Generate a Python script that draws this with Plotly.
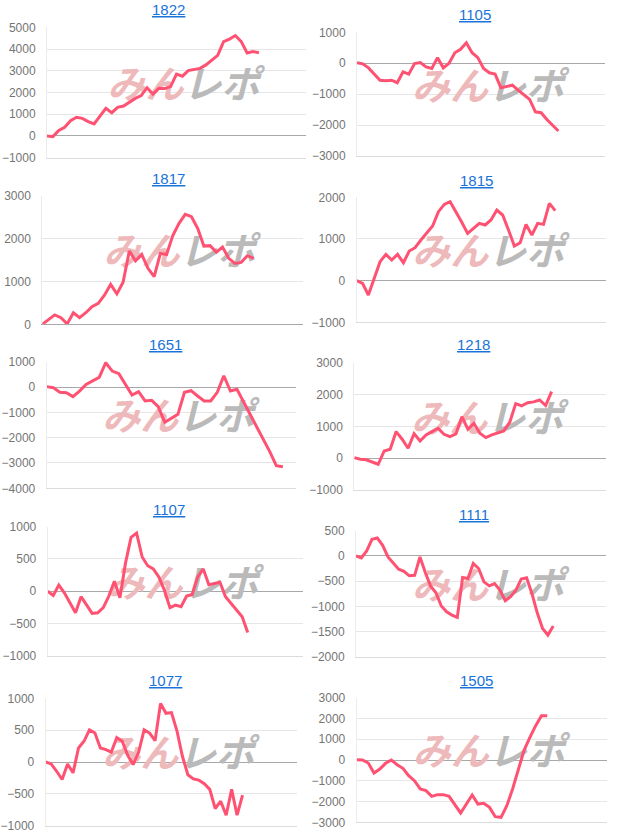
import plotly.graph_objects as go

W, H = 618, 833

titles = ["1822", "1105", "1817", "1815", "1651", "1218", "1107", "1111", "1077", "1505"]

s1822 = [0, -30, 250, 400, 700, 860, 810, 660, 550, 890, 1270, 1070, 1320, 1380, 1560, 1730,
         1860, 2220, 1930, 2190, 2180, 2270, 2850, 2750, 3010, 3070, 3110, 3270, 3500, 3710,
         4340, 4460, 4620, 4340, 3820, 3880, 3830]
s1105 = [20, -20, -150, -355, -550, -570, -550, -630, -280, -355, -10, 20, -120, -170, 180,
         -150, 0, 340, 450, 660, 340, 180, -170, -310, -350, -790, -740, -710, -870, -1010,
         -1170, -1570, -1600, -1820, -2000, -2190]
s1817 = [0, 115, 220, 155, 10, 270, 155, 270, 410, 490, 680, 930, 710, 980, 1710, 1480, 1630,
         1305, 1110, 1655, 1630, 2070, 2355, 2565, 2510, 2240, 1825, 1835, 1680, 1800, 1540,
         1420, 1445, 1600, 1540]
s1815 = [0, -65, -345, 70, 455, 630, 495, 630, 430, 710, 790, 975, 1150, 1310, 1655, 1830, 1895,
         1655, 1400, 1135, 1255, 1375, 1335, 1455, 1695, 1575, 1215, 830, 910, 1350, 1095,
         1375, 1350, 1855, 1680]
s1651 = [15, -25, -210, -225, -380, -160, 105, 250, 380, 960, 630, 525, 105, -315, -185, -550,
         -525, -775, -1395, -1235, -1080, -210, -145, -355, -550, -550, -210, 445, -160, -90,
         -580, -1105, -1540, -2025, -2550, -3105, -3145]
s1218 = [20, -30, -50, -125, -190, 230, 285, 840, 600, 315, 775, 545, 735, 840, 945, 755, 680,
         765, 1310, 915, 1100, 785, 650, 735, 800, 860, 1135, 1720, 1650, 1750, 1775, 1835,
         1660, 2100]
s1107 = [0, -65, 95, -25, -180, -335, -85, -220, -345, -335, -255, -75, 155, -100, 435, 835,
         900, 530, 395, 345, 220, 15, -255, -215, -240, -75, -50, 220, 345, 100, 120, 140, -85,
         -190, -295, -395, -640]
s1111 = [0, -40, 100, 330, 355, 210, -20, -140, -265, -305, -395, -385, -20, -330, -600, -730,
         -995, -1110, -1175, -1220, -430, -450, -150, -250, -515, -595, -550, -680, -890, -810,
         -680, -460, -435, -745, -1130, -1440, -1570, -1390]
s1077 = [0, -30, -145, -275, -30, -170, 220, 325, 505, 455, 220, 195, 155, 385, 325, 105, -40,
         155, 505, 455, 335, 920, 765, 775, 490, 90, -200, -265, -285, -340, -430, -730, -615,
         -835, -430, -835, -520]
s1505 = [15, 0, -145, -625, -435, -160, 0, -225, -400, -755, -995, -1395, -1475, -1750, -1670,
         -1670, -1750, -2150, -2550, -2120, -1685, -2120, -2085, -2280, -2730, -2760, -2200,
         -1395, -480, 480, 1090, 1655, 2135, 2135]

series = [s1822, s1105, s1817, s1815, s1651, s1218, s1107, s1111, s1077, s1505]

y_ranges = [(-1000, 5000), (-3000, 1000), (0, 3000), (-1000, 2000), (-4000, 1000),
            (-1000, 3000), (-1000, 1000), (-2000, 500), (-1000, 1000), (-3000, 3000)]
y_dticks = [1000, 1000, 1000, 1000, 1000, 1000, 500, 500, 500, 1000]
x_slots = [44.0, 43.1, 41.9, 42.7, 38.0, 42.1, 46.0, 46.9, 45.9, 43.3]

# plot areas in pixels: left, right, top, bottom
boxes = [(47, 306, 27.3, 157.7), (357, 605, 32.3, 156),
         (42.3, 302.7, 195.7, 324.3), (356.7, 606, 197.3, 322.3),
         (46.7, 296, 361.7, 488.3), (354.3, 606, 363, 490),
         (47.7, 303.3, 526.7, 655.7), (356, 606, 530.7, 656.7),
         (45.7, 296.7, 698.3, 825.7), (356.7, 606.7, 697.7, 822.3)]
title_pos = [(168, 9), (475, 14), (168, 178), (476, 180), (165, 344),
             (473, 345), (169, 509), (474, 514), (165, 680), (476, 680)]

LINE = "#ff5272"
TICK = dict(family="Liberation Sans, Arial, sans-serif", size=12, color="#757575")

fig = go.Figure()
layout = {}
annotations = []
for i, (name, vals) in enumerate(zip(titles, series)):
    sfx = "" if i == 0 else str(i + 1)
    xref, yref = "x" + sfx, "y" + sfx
    l, r, t, b = boxes[i]
    y0, y1 = y_ranges[i]
    xm = x_slots[i]
    pw, ph = r - l, b - t
    # watermark centre, slightly right/up of plot centre
    xc = xm * (0.5 + 7 / pw)
    yc = y0 + (y1 - y0) * (0.5 + 4 / ph)
    wm = dict(family="Noto Sans CJK JP", size=38, weight="bold", style="italic")
    fig.add_trace(go.Scatter(x=[xc], y=[yc], mode="text", text=["みん"],
                             textposition="middle left", hoverinfo="skip",
                             textfont=dict(color="#eeb9ba", **wm),
                             xaxis=xref, yaxis=yref, cliponaxis=False))
    fig.add_trace(go.Scatter(x=[xc], y=[yc], mode="text", text=["レポ"],
                             textposition="middle right", hoverinfo="skip",
                             textfont=dict(color="#bababa", **wm),
                             xaxis=xref, yaxis=yref, cliponaxis=False))
    fig.add_trace(go.Scatter(x=list(range(len(vals))), y=vals, mode="lines",
                             line=dict(color=LINE, width=3), hoverinfo="skip",
                             xaxis=xref, yaxis=yref))
    layout["xaxis" + sfx] = dict(domain=[l / W, r / W], range=[0, xm], showgrid=False,
                                 zeroline=False, showticklabels=False, ticks="",
                                 showline=True, automargin=False,
                                 linecolor="#a8a8a8" if y0 == 0 else "#dcdcdc",
                                 anchor=yref, fixedrange=True)
    layout["yaxis" + sfx] = dict(domain=[1 - b / H, 1 - t / H], range=[y0, y1],
                                 tick0=0, dtick=y_dticks[i], showgrid=True,
                                 gridcolor="#e6e6e6", gridwidth=1, automargin=False,
                                 zeroline=True, zerolinecolor="#a8a8a8", zerolinewidth=1,
                                 showline=True, linecolor="#ececec", ticks="",
                                 tickfont=TICK, ticklabelstandoff=8,
                                 anchor=xref, fixedrange=True)
    tx, ty = title_pos[i]
    annotations.append(dict(text="<u>" + name + "</u>", x=tx / W, y=1 - ty / H,
                            xref="paper", yref="paper", showarrow=False,
                            xanchor="center", yanchor="middle",
                            font=dict(family="Liberation Sans, Arial, sans-serif",
                                      size=15, color="#1a73d8")))

fig.update_layout(width=W, height=H, margin=dict(l=0, r=0, t=0, b=0, pad=0,
                                                 autoexpand=False),
                  paper_bgcolor="white", plot_bgcolor="white", showlegend=False,
                  hovermode=False, annotations=annotations, **layout)
fig.write_html("out.html", config={"displayModeBar": False},
               post_script="document.body.style.margin='0';"
                           "document.body.style.overflow='hidden';")
